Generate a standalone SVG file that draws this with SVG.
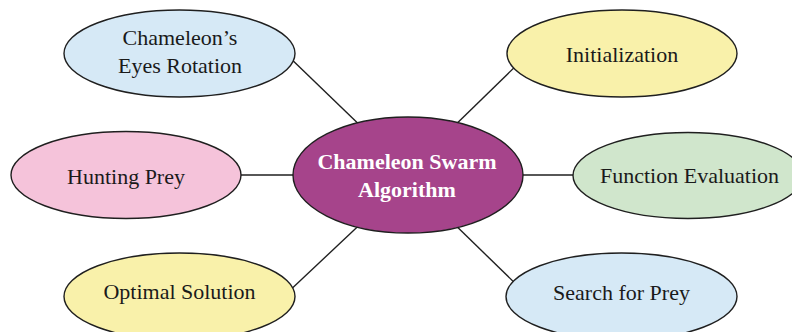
<svg xmlns="http://www.w3.org/2000/svg" width="792" height="332" viewBox="0 0 792 332">
<style>
.n{stroke:#1f1f1f;stroke-width:1.4}
.t{font-family:"Liberation Serif","Times New Roman",serif;font-size:22px;fill:#1a1a1a;text-anchor:middle}
.c{font-family:"Liberation Serif","Times New Roman",serif;font-size:22px;font-weight:bold;fill:#ffffff;text-anchor:middle}
.e{stroke:#1f1f1f;stroke-width:1.4;fill:none}
</style>
<rect width="792" height="332" fill="#ffffff"/>
<g id="connectors">
<line class="e" x1="285" y1="53" x2="370" y2="135"/>
<line class="e" x1="522" y1="60" x2="445" y2="135"/>
<line class="e" x1="230" y1="175" x2="300" y2="175"/>
<line class="e" x1="515" y1="175" x2="585" y2="175"/>
<line class="e" x1="370" y1="215" x2="285" y2="295"/>
<line class="e" x1="445" y1="215" x2="522" y2="290"/>
</g>
<g id="center">
<ellipse class="n" cx="408" cy="175" rx="115" ry="58" fill="#a6448b"/>
<text class="c" x="407" y="169">Chameleon Swarm</text>
<text class="c" x="407" y="197">Algorithm</text>
</g>
<g id="eyes">
<ellipse class="n" cx="179.5" cy="53.5" rx="115.5" ry="43.5" fill="#d6e9f6"/>
<text class="t" x="180" y="45">Chameleon’s</text>
<text class="t" x="180" y="73">Eyes Rotation</text>
</g>
<g id="init">
<ellipse class="n" cx="622" cy="53.5" rx="115" ry="43.5" fill="#f9f1aa"/>
<text class="t" x="622" y="62">Initialization</text>
</g>
<g id="hunting">
<ellipse class="n" cx="126" cy="175" rx="115" ry="43.5" fill="#f5c3da"/>
<text class="t" x="126" y="184">Hunting Prey</text>
</g>
<g id="function">
<ellipse class="n" cx="688" cy="175.5" rx="115" ry="43" fill="#d0e6cc"/>
<text class="t" x="689.5" y="183">Function Evaluation</text>
</g>
<g id="optimal">
<ellipse class="n" cx="179.5" cy="296.5" rx="115.5" ry="43.5" fill="#f9f1aa"/>
<text class="t" x="179.5" y="299">Optimal Solution</text>
</g>
<g id="search">
<ellipse class="n" cx="621.5" cy="296.5" rx="115.5" ry="43.5" fill="#d6e9f6"/>
<text class="t" x="621.5" y="300">Search for Prey</text>
</g>
</svg>
